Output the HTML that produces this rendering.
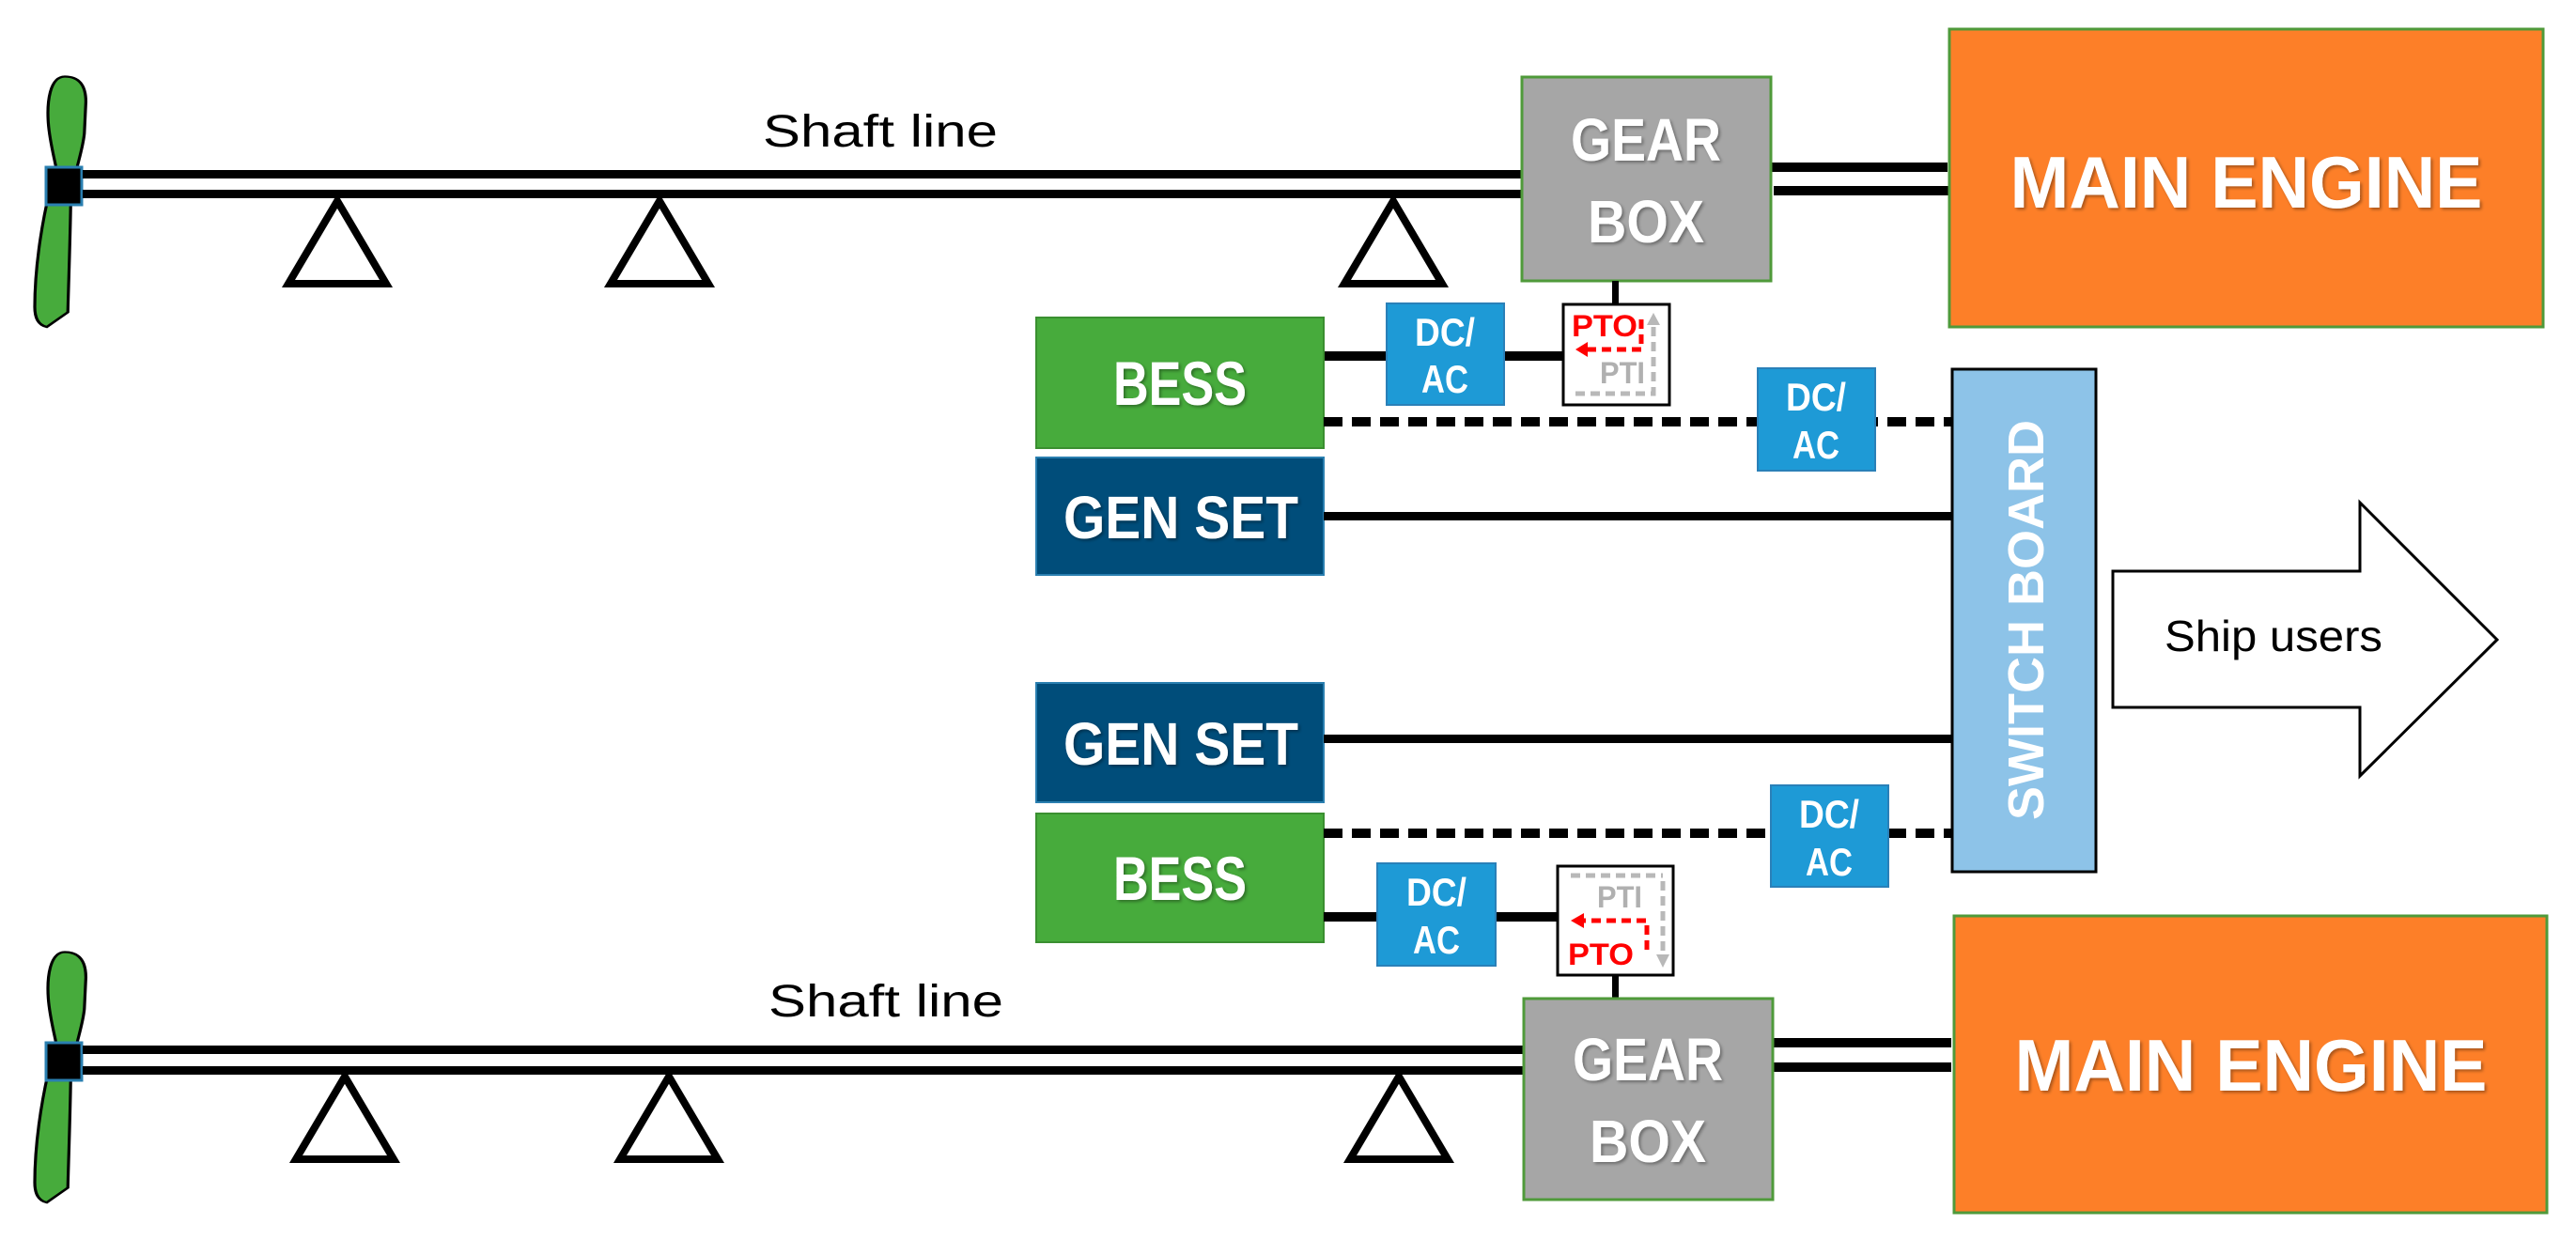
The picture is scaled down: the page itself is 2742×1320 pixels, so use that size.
<!DOCTYPE html>
<html><head><meta charset="utf-8"><style>
html,body{margin:0;padding:0;background:#fff}
svg{display:block}
.b{font-family:"Liberation Sans Narrow","Liberation Sans",sans-serif;font-weight:bold;fill:#fff}
.n{font-family:"Liberation Sans",sans-serif;fill:#000}
</style></head><body>
<svg width="2742" height="1320" viewBox="0 0 2742 1320" xmlns="http://www.w3.org/2000/svg">
<defs>
<filter id="sh"><feDropShadow dx="2" dy="2" stdDeviation="1.5" flood-color="#000" flood-opacity="0.35"/></filter>
<g id="blades">
<path d="M0,-104 C10,-104 14,-95 14,-80 L13,-50 C12,-35 8,-20 6,-4 L-4,-4 C-6,-22 -10,-40 -11,-60 C-12,-80 -10,-104 0,-104Z" fill="#47ab3c" stroke="#000" stroke-width="2"/>
<path d="M4,4 C4,30 3,70 2,120 L-12,134 C-18,132 -20,125 -20,115 C-20,80 -16,40 -10,4Z" fill="#47ab3c" stroke="#000" stroke-width="2"/>
</g>
<g id="prop">
<use href="#blades" transform="scale(1.6,1.12)"/>
<rect x="-20" y="-20" width="38" height="40" fill="#000" stroke="#2a7fb0" stroke-width="3"/>
</g>
<g id="tri"><polygon points="0,0 -52,88 52,88" fill="#fff" stroke="#000" stroke-width="8" stroke-linejoin="miter"/></g>
</defs>

<!-- TOP -->
<use href="#prop" x="69" y="198"/>
<rect x="88" y="181" width="1533" height="9" fill="#000"/>
<rect x="88" y="202" width="1533" height="9" fill="#000"/>
<use href="#tri" x="359" y="214"/>
<use href="#tri" x="702" y="214"/>
<use href="#tri" x="1483" y="214"/>
<text x="937" y="156" class="n" font-size="48" text-anchor="middle" textLength="250" lengthAdjust="spacingAndGlyphs">Shaft line</text>
<rect x="1885" y="173" width="188" height="10" fill="#000"/>
<rect x="1888" y="198" width="186" height="10" fill="#000"/>
<rect x="1620" y="82" width="265" height="217" fill="#a6a6a6" stroke="#4f9a3a" stroke-width="3"/>
<text x="1752" y="171" class="b" font-size="64" text-anchor="middle" filter="url(#sh)" textLength="160" lengthAdjust="spacingAndGlyphs">GEAR</text>
<text x="1752" y="258" class="b" font-size="64" text-anchor="middle" filter="url(#sh)" textLength="124" lengthAdjust="spacingAndGlyphs">BOX</text>
<rect x="2075" y="31" width="632" height="317" fill="#fd7f28" stroke="#4f9a3a" stroke-width="3"/>
<text x="2391" y="221" class="b" font-size="78" text-anchor="middle" filter="url(#sh)" textLength="503" lengthAdjust="spacingAndGlyphs">MAIN ENGINE</text>
<rect x="1716" y="299" width="7" height="25" fill="#000"/>
<rect x="1408" y="374" width="256" height="10" fill="#000"/>
<rect x="1476" y="323" width="125" height="108" fill="#1e9ad6" stroke="#2a80b8" stroke-width="2"/>
<text x="1538" y="368" class="b" font-size="42" text-anchor="middle" textLength="64" lengthAdjust="spacingAndGlyphs">DC/</text>
<text x="1538" y="418" class="b" font-size="42" text-anchor="middle" textLength="50" lengthAdjust="spacingAndGlyphs">AC</text>
<!-- PTO box top -->
<rect x="1664" y="324" width="113" height="107" fill="#fff" stroke="#000" stroke-width="3"/>
<text x="1673" y="358" font-family="Liberation Sans,sans-serif" font-weight="bold" font-size="32" fill="#f00" textLength="70" lengthAdjust="spacingAndGlyphs">PTO</text>
<text x="1703" y="408" font-family="Liberation Sans,sans-serif" font-weight="bold" font-size="32" fill="#b0b0b0" textLength="48" lengthAdjust="spacingAndGlyphs">PTI</text>
<path d="M1747,340 L1747,372 L1688,372" fill="none" stroke="#f00" stroke-width="5" stroke-dasharray="10,6"/>
<polygon points="1677,372 1690,364 1690,380" fill="#f00"/>
<path d="M1677,419 L1760,419 L1760,345" fill="none" stroke="#b8b8b8" stroke-width="5" stroke-dasharray="10,6"/>
<polygon points="1760,333 1753,346 1767,346" fill="#b8b8b8"/>

<rect x="1103" y="338" width="306" height="139" fill="#47ab3c" stroke="#3a8f30" stroke-width="2"/>
<text x="1256" y="431" class="b" font-size="66" text-anchor="middle" filter="url(#sh)" textLength="142" lengthAdjust="spacingAndGlyphs">BESS</text>
<path d="M1409,449 L2077,449" stroke="#000" stroke-width="10" stroke-dasharray="20,10"/>
<rect x="1871" y="392" width="125" height="109" fill="#1e9ad6" stroke="#2a80b8" stroke-width="2"/>
<text x="1933" y="437" class="b" font-size="42" text-anchor="middle" textLength="64" lengthAdjust="spacingAndGlyphs">DC/</text>
<text x="1933" y="488" class="b" font-size="42" text-anchor="middle" textLength="50" lengthAdjust="spacingAndGlyphs">AC</text>
<rect x="1103" y="487" width="306" height="125" fill="#004d7a" stroke="#2a7fb0" stroke-width="2"/>
<text x="1257" y="573" class="b" font-size="64" text-anchor="middle" filter="url(#sh)" textLength="250" lengthAdjust="spacingAndGlyphs">GEN SET</text>
<rect x="1409" y="545" width="668" height="9" fill="#000"/>

<!-- Switchboard -->
<rect x="2078" y="393" width="153" height="535" fill="#8dc3e8" stroke="#000" stroke-width="3"/>
<text transform="translate(2175,660) rotate(-90)" font-family="Liberation Sans,sans-serif" font-weight="bold" font-size="54" fill="#fff" text-anchor="middle">SWITCH BOARD</text>
<!-- Arrow -->
<polygon points="2249,608 2512,608 2512,535 2658,681 2512,826 2512,753 2249,753" fill="#fff" stroke="#000" stroke-width="3"/>
<text x="2420" y="693" class="n" font-size="46" text-anchor="middle" textLength="232" lengthAdjust="spacingAndGlyphs">Ship users</text>

<!-- BOTTOM -->
<rect x="1103" y="727" width="306" height="127" fill="#004d7a" stroke="#2a7fb0" stroke-width="2"/>
<text x="1257" y="814" class="b" font-size="64" text-anchor="middle" filter="url(#sh)" textLength="250" lengthAdjust="spacingAndGlyphs">GEN SET</text>
<rect x="1409" y="782" width="668" height="9" fill="#000"/>
<rect x="1103" y="866" width="306" height="137" fill="#47ab3c" stroke="#3a8f30" stroke-width="2"/>
<text x="1256" y="958" class="b" font-size="66" text-anchor="middle" filter="url(#sh)" textLength="142" lengthAdjust="spacingAndGlyphs">BESS</text>
<path d="M1409,887 L2077,887" stroke="#000" stroke-width="10" stroke-dasharray="20,10"/>
<rect x="1885" y="836" width="125" height="108" fill="#1e9ad6" stroke="#2a80b8" stroke-width="2"/>
<text x="1947" y="881" class="b" font-size="42" text-anchor="middle" textLength="64" lengthAdjust="spacingAndGlyphs">DC/</text>
<text x="1947" y="932" class="b" font-size="42" text-anchor="middle" textLength="50" lengthAdjust="spacingAndGlyphs">AC</text>
<rect x="1409" y="971" width="250" height="10" fill="#000"/>
<rect x="1466" y="919" width="126" height="109" fill="#1e9ad6" stroke="#2a80b8" stroke-width="2"/>
<text x="1529" y="964" class="b" font-size="42" text-anchor="middle" textLength="64" lengthAdjust="spacingAndGlyphs">DC/</text>
<text x="1529" y="1015" class="b" font-size="42" text-anchor="middle" textLength="50" lengthAdjust="spacingAndGlyphs">AC</text>
<!-- PTO box bottom -->
<rect x="1658" y="922" width="123" height="116" fill="#fff" stroke="#000" stroke-width="3"/>
<text x="1700" y="966" font-family="Liberation Sans,sans-serif" font-weight="bold" font-size="32" fill="#b0b0b0" textLength="48" lengthAdjust="spacingAndGlyphs">PTI</text>
<text x="1669" y="1027" font-family="Liberation Sans,sans-serif" font-weight="bold" font-size="32" fill="#f00" textLength="70" lengthAdjust="spacingAndGlyphs">PTO</text>
<path d="M1672,932 L1770,932" fill="none" stroke="#b8b8b8" stroke-width="5" stroke-dasharray="10,6"/>
<path d="M1770,938 L1770,1015" fill="none" stroke="#b8b8b8" stroke-width="5" stroke-dasharray="10,6"/>
<polygon points="1770,1030 1763,1016 1777,1016" fill="#b8b8b8"/>
<path d="M1753,1011 L1753,980 L1685,980" fill="none" stroke="#f00" stroke-width="5" stroke-dasharray="10,6"/>
<polygon points="1672,980 1686,972 1686,988" fill="#f00"/>
<rect x="1716" y="1038" width="7" height="25" fill="#000"/>

<use href="#prop" x="69" y="1130"/>
<rect x="88" y="1113" width="1533" height="9" fill="#000"/>
<rect x="88" y="1135" width="1533" height="9" fill="#000"/>
<use href="#tri" x="367" y="1146"/>
<use href="#tri" x="712" y="1146"/>
<use href="#tri" x="1489" y="1146"/>
<text x="943" y="1082" class="n" font-size="48" text-anchor="middle" textLength="250" lengthAdjust="spacingAndGlyphs">Shaft line</text>
<rect x="1887" y="1105" width="190" height="10" fill="#000"/>
<rect x="1887" y="1131" width="190" height="10" fill="#000"/>
<rect x="1622" y="1063" width="265" height="214" fill="#a6a6a6" stroke="#4f9a3a" stroke-width="3"/>
<text x="1754" y="1150" class="b" font-size="64" text-anchor="middle" filter="url(#sh)" textLength="160" lengthAdjust="spacingAndGlyphs">GEAR</text>
<text x="1754" y="1237" class="b" font-size="64" text-anchor="middle" filter="url(#sh)" textLength="124" lengthAdjust="spacingAndGlyphs">BOX</text>
<rect x="2080" y="975" width="631" height="316" fill="#fd7f28" stroke="#4f9a3a" stroke-width="3"/>
<text x="2396" y="1161" class="b" font-size="78" text-anchor="middle" filter="url(#sh)" textLength="503" lengthAdjust="spacingAndGlyphs">MAIN ENGINE</text>
</svg>
</body></html>
